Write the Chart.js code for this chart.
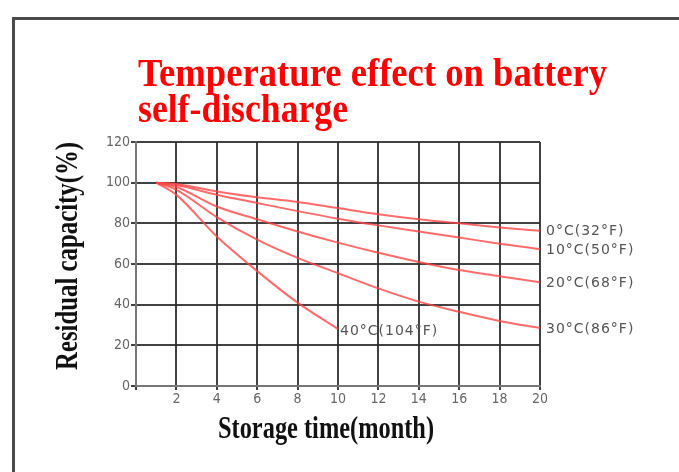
<!DOCTYPE html>
<html>
<head>
<meta charset="utf-8">
<script src="https://cdn.jsdelivr.net/npm/chart.js@4/dist/chart.umd.min.js"></script>
<style>
  html,body{margin:0;padding:0;background:#fff;}
  canvas{display:block;}
</style>
</head>
<body>
<canvas id="chart" width="679" height="472"></canvas>
<script>
/* -------------------- Data -------------------- */
const months   = [1, 2, 4, 6, 8, 10, 12, 14, 16, 18, 20];
const temp0    = [100, 99.3, 95.7, 92.8, 90.5, 87.5, 84.5, 82, 80, 78, 76.3];
const temp10   = [100, 98.8, 94.1, 90, 86, 82.3, 79, 76, 73, 70, 67.3];
const temp20   = [100, 97.9, 88.3, 82, 76, 70.5, 65.5, 61, 57, 54, 51];
const temp30   = [100, 96.5, 83.1, 72, 63, 55.5, 48, 41.5, 36.5, 32, 28.5];
const temp40   = [100, 94, 73.5, 56.5, 41, 28];
const seriesLabels = ['0°C(32°F)', '10°C(50°F)', '20°C(68°F)', '30°C(86°F)', '40°C(104°F)'];
const xTicks = [0, 2, 4, 6, 8, 10, 12, 14, 16, 18, 20];
const yTicks = [0, 20, 40, 60, 80, 100, 120];

const titleLines = ['Temperature effect on battery', 'self-discharge'];
const xTitle = 'Storage time(month)';
const yTitle = 'Residual capacity(%)';

/* -------------------- Helpers -------------------- */
function pts(values){ return values.map((v,i)=>({x:months[i], y:v})); }
function lineSet(label, values){
  return { label, data:pts(values), borderColor:'rgba(255,70,70,0.8)', borderWidth:2,
           pointRadius:0, fill:false, cubicInterpolationMode:'monotone' };
}
// draw text squeezed horizontally to a given width
function fitText(ctx, text, x, y, width){
  const w = ctx.measureText(text).width;
  ctx.save();
  ctx.translate(x, y);
  ctx.scale(width / w, 1);
  ctx.fillText(text, 0, 0);
  ctx.restore();
}

/* -------------------- Decorations -------------------- */
const decor = {
  id:'decor',
  afterDraw(chart){
    const ctx = chart.ctx;
    // frame
    ctx.save();
    ctx.strokeStyle = '#4a4a4a';
    ctx.lineWidth = 3;
    ctx.strokeRect(13.5, 18.5, 720, 520);

    // title
    ctx.fillStyle = '#ff0000';
    ctx.font = 'bold 39px "Liberation Serif", "Times New Roman", serif';
    ctx.textBaseline = 'alphabetic';
    ctx.textAlign = 'left';
    fitText(ctx, titleLines[0], 138, 86, 469);
    fitText(ctx, titleLines[1], 138, 122, 210);

    // axis titles
    ctx.fillStyle = '#111';
    ctx.font = 'bold 31px "Liberation Serif", "Times New Roman", serif';
    fitText(ctx, xTitle, 218, 438, 216);
    ctx.save();
    ctx.translate(77, 370);
    ctx.rotate(-Math.PI/2);
    fitText(ctx, yTitle, 0, 0, 228);
    ctx.restore();

    // series end labels
    const xs = chart.scales.x, ys = chart.scales.y;
    ctx.fillStyle = '#555';
    ctx.font = '14px "DejaVu Sans", sans-serif';
    ctx.letterSpacing = '1px';
    ctx.textBaseline = 'middle';
    chart.data.datasets.forEach((ds, i)=>{
      const last = ds.data[ds.data.length-1];
      const px = xs.getPixelForValue(last.x), py = ys.getPixelForValue(last.y);
      ctx.fillText(seriesLabels[i], px + (i===4 ? 2 : 6), py + (i===4 ? 2 : 1));
    });
    ctx.restore();
  }
};

/* -------------------- Chart -------------------- */
const tickFont = { family:'"DejaVu Sans Condensed", "Liberation Sans Narrow", sans-serif', size:14 };

new Chart(document.getElementById('chart'), {
  type:'line',
  data:{ datasets:[
    lineSet(seriesLabels[0], temp0),
    lineSet(seriesLabels[1], temp10),
    lineSet(seriesLabels[2], temp20),
    lineSet(seriesLabels[3], temp30),
    lineSet(seriesLabels[4], temp40)
  ]},
  options:{
    responsive:false,
    animation:false,
    layout:{ padding:{ left:0, top:142, right:139, bottom:0 } },
    plugins:{ legend:{display:false}, tooltip:{enabled:false}, title:{display:false} },
    scales:{
      x:{
        type:'linear', min:0, max:20,
        afterBuildTicks(s){ s.ticks = xTicks.map(v=>({value:v})); },
        afterFit(s){ s.height = 86; },
        grid:{ color:'rgba(45,45,45,0.9)', lineWidth:2, tickLength:4 },
        border:{ color:'#777', width:2 },
        ticks:{ color:'#666', font:tickFont, padding:1, maxRotation:0,
                callback:v=> v===0 ? '' : v }
      },
      y:{
        min:0, max:120,
        afterBuildTicks(s){ s.ticks = yTicks.map(v=>({value:v})); },
        afterFit(s){ s.width = 136; },
        grid:{ color:'rgba(45,45,45,0.9)', lineWidth:2, tickLength:5 },
        border:{ color:'#777', width:2 },
        ticks:{ color:'#666', font:tickFont, padding:1 }
      }
    }
  },
  plugins:[decor]
});
</script>
</body>
</html>
